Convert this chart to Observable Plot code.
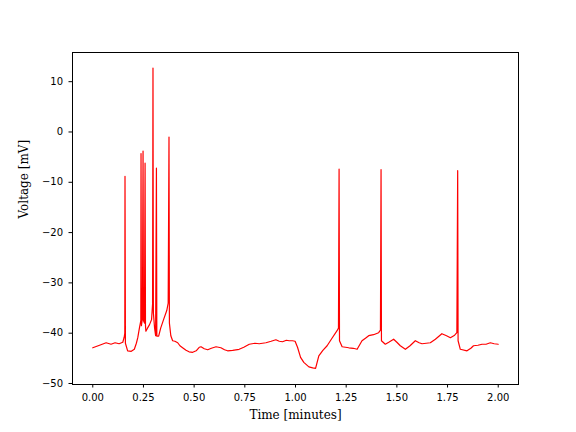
<!DOCTYPE html>
<html>
<head>
<meta charset="utf-8">
<script src="https://cdn.jsdelivr.net/npm/d3@7"></script>
<script src="https://cdn.jsdelivr.net/npm/@observablehq/plot@0.6"></script>
<style>
  html, body { margin: 0; padding: 0; background: #fff; }
</style>
</head>
<body>
<div id="chart"></div>
<script>
const timeMin = [0.000,0.02,0.04,0.066,0.09,0.11,0.13,0.148,0.155,0.158,0.159,0.161,0.172,0.19,0.205,0.215,0.222,0.23,0.237,0.238,0.240,0.245,0.248,0.250,0.255,0.258,0.260,0.262,0.27,0.28,0.29,0.295,0.297,0.299,0.305,0.31,0.314,0.316,0.325,0.335,0.35,0.365,0.372,0.376,0.378,0.385,0.394,0.405,0.419,0.43,0.443,0.46,0.475,0.493,0.51,0.525,0.534,0.55,0.567,0.585,0.608,0.632,0.65,0.665,0.69,0.722,0.745,0.772,0.80,0.821,0.854,0.88,0.903,0.92,0.936,0.955,0.969,0.985,0.998,1.01,1.025,1.041,1.066,1.085,1.099,1.115,1.135,1.156,1.18,1.205,1.212,1.215,1.217,1.23,1.263,1.285,1.304,1.328,1.345,1.361,1.385,1.41,1.419,1.422,1.424,1.443,1.46,1.484,1.50,1.517,1.542,1.565,1.591,1.61,1.624,1.645,1.665,1.69,1.722,1.745,1.764,1.785,1.796,1.800,1.802,1.813,1.846,1.865,1.878,1.90,1.92,1.94,1.961,1.98,2.0];
const voltageMV = [-42.9,-42.6,-42.3,-41.9,-42.2,-41.9,-42.1,-41.8,-40.8,-40.0,-8.8,-42.0,-43.5,-43.6,-43.2,-42.0,-40.9,-39.0,-37.5,-4.3,-38.5,-37.0,-3.8,-37.5,-38,-6.2,-38.5,-39.6,-39.0,-38.3,-37.3,-34.2,12.7,-36.0,-39.0,-40.5,-7.2,-40.6,-40.6,-39.0,-37.2,-35.5,-34.0,-1.0,-38.0,-40.5,-41.5,-41.6,-41.9,-42.5,-42.9,-43.4,-43.7,-43.8,-43.5,-42.8,-42.7,-43.1,-43.3,-43.0,-42.7,-42.9,-43.3,-43.5,-43.4,-43.2,-42.8,-42.2,-42.0,-42.1,-41.9,-41.6,-41.3,-41.6,-41.7,-41.4,-41.5,-41.5,-41.6,-42.8,-44.8,-45.8,-46.7,-46.9,-47.0,-44.5,-43.4,-42.5,-41.0,-39.5,-39.0,-7.4,-41.5,-42.7,-42.9,-43.0,-43.2,-41.5,-41.0,-40.5,-40.3,-39.9,-39.4,-7.5,-41.5,-42.2,-41.8,-41.2,-41.8,-42.5,-43.2,-42.5,-41.5,-41.9,-42.1,-42.0,-41.9,-41.2,-40.1,-40.5,-40.9,-40.4,-39.9,-7.7,-41.5,-43.2,-43.5,-43.0,-42.5,-42.4,-42.2,-42.2,-41.9,-42.1,-42.2];
const xTicks = [0, 0.25, 0.5, 0.75, 1.0, 1.25, 1.5, 1.75, 2.0];
const yTicks = [-50, -40, -30, -20, -10, 0, 10];
const xLabel = "Time [minutes]";
const yLabel = "Voltage [mV]";

const data = timeMin.map((t, i) => ({t, v: voltageMV[i]}));

const chart = Plot.plot({
  width: 576,
  height: 432,
  marginLeft: 72,
  marginRight: 58,
  marginTop: 52,
  marginBottom: 48,
  style: {background: "#fff", fontFamily: "DejaVu Sans", fontSize: "10px", color: "#000"},
  x: {domain: [-0.1, 2.1]},
  y: {domain: [-50.2, 15.8]},
  marks: [
    Plot.line(data, {x: "t", y: "v", stroke: "#ff0000", strokeWidth: 1.2}),
    Plot.frame({stroke: "#000", strokeWidth: 1}),
    Plot.axisX({ticks: xTicks, tickFormat: d3.format(".2f"), tickSize: 3.5, tickPadding: 6, label: null, fontSize: 10, fontFamily: "DejaVu Sans"}),
    Plot.axisY({ticks: yTicks, tickFormat: d => d3.format("d")(d).replace("-", "\u2212"), tickSize: 3.5, tickPadding: 6, label: null, fontSize: 10, fontFamily: "DejaVu Sans"}),
    Plot.text([xLabel], {frameAnchor: "bottom", dy: 34, fontFamily: "DejaVu Serif", fontSize: 12, fill: "#000"}),
    Plot.text([yLabel], {frameAnchor: "left", dx: -48, rotate: -90, fontFamily: "DejaVu Serif", fontSize: 12, fill: "#000"})
  ]
});
document.getElementById("chart").appendChild(chart);
</script>
</body>
</html>
